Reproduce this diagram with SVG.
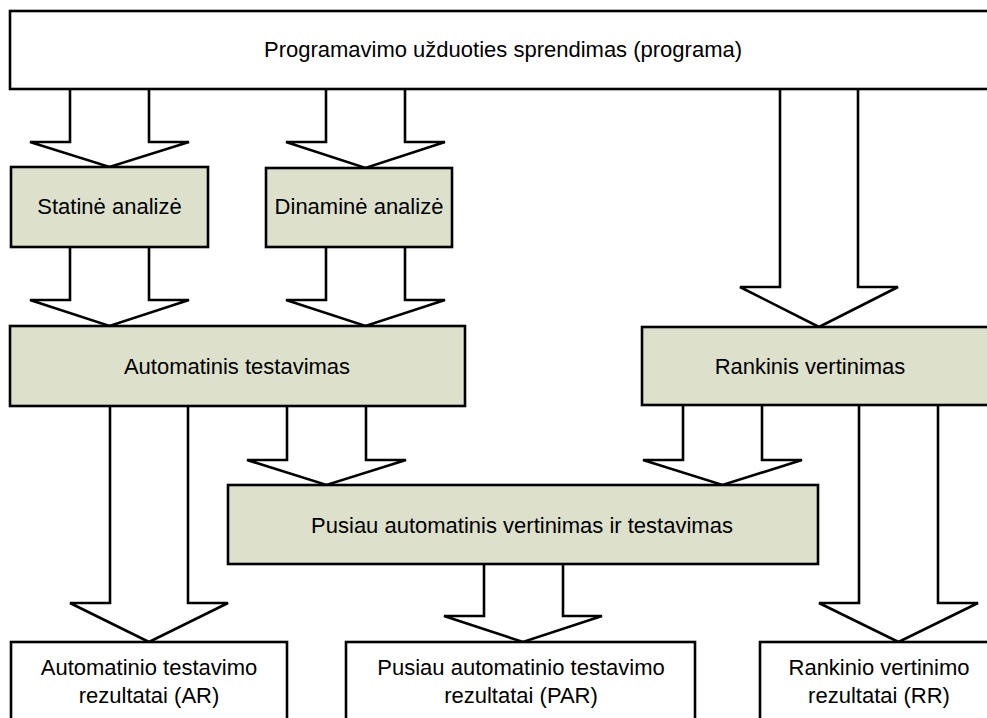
<svg xmlns="http://www.w3.org/2000/svg" width="987" height="718" viewBox="0 0 987 718">
  <style>
    .box { stroke: #000; stroke-width: 2.6; }
    .plain { fill: #fff; }
    .step { fill: #dde0cb; }
    .arrow { fill: #fff; stroke: #000; stroke-width: 2.6; stroke-linejoin: miter; }
    text { font-family: "Liberation Sans", Arial, sans-serif; font-size: 22px; fill: #000; text-anchor: middle; }
  </style>
  <rect width="987" height="718" fill="#fff"/>

  <!-- block arrows (drawn before boxes so boxes sit on top of the shafts) -->
  <g id="connectors">
    <!-- program -> static analysis -->
    <path class="arrow" d="M70,89 V142 H30 L109.5,167 L189,142 H149 V89"/>
    <!-- program -> dynamic analysis -->
    <path class="arrow" d="M326,89 V142 H286 L365.5,168 L445,142 H405 V89"/>
    <!-- program -> manual evaluation -->
    <path class="arrow" d="M780,89 V287 H740 L819,327 L898,287 H858 V89"/>
    <!-- static analysis -> automatic testing -->
    <path class="arrow" d="M70,247 V300 H30 L109.5,326 L189,300 H149 V247"/>
    <!-- dynamic analysis -> automatic testing -->
    <path class="arrow" d="M326,247 V300 H286 L365.5,326 L445,300 H405 V247"/>
    <!-- automatic testing -> semi-automatic -->
    <path class="arrow" d="M287,406 V460 H247 L326.5,485 L406,460 H366 V406"/>
    <!-- manual evaluation -> semi-automatic -->
    <path class="arrow" d="M683,406 V460 H643 L722.5,485 L802,460 H762 V406"/>
    <!-- automatic testing -> AR -->
    <path class="arrow" d="M110,406 V603 H70 L149,642 L228,603 H188 V406"/>
    <!-- semi-automatic -> PAR -->
    <path class="arrow" d="M484,564 V616 H444 L523,642 L602,616 H563 V564"/>
    <!-- manual evaluation -> RR -->
    <path class="arrow" d="M859,406 V603 H819 L898.5,642 L978,603 H938 V406"/>
  </g>

  <g id="program">
    <rect class="box plain" x="10" y="11" width="1000" height="78"/>
    <text x="503" y="57">Programavimo užduoties sprendimas (programa)</text>
  </g>

  <g id="static-analysis">
    <rect class="box step" x="11" y="167" width="197" height="80"/>
    <text x="109.5" y="214">Statinė analizė</text>
  </g>

  <g id="dynamic-analysis">
    <rect class="box step" x="266" y="168" width="186" height="79"/>
    <text x="359" y="214">Dinaminė analizė</text>
  </g>

  <g id="automatic-testing">
    <rect class="box step" x="10" y="326" width="455" height="80"/>
    <text x="237" y="374">Automatinis testavimas</text>
  </g>

  <g id="manual-evaluation">
    <rect class="box step" x="642" y="327" width="360" height="78"/>
    <text x="810" y="374">Rankinis vertinimas</text>
  </g>

  <g id="semi-automatic">
    <rect class="box step" x="228" y="485" width="590" height="79"/>
    <text x="522" y="533">Pusiau automatinis vertinimas ir testavimas</text>
  </g>

  <g id="result-ar">
    <rect class="box plain" x="11" y="642" width="276" height="100"/>
    <text x="149" y="675">Automatinio testavimo</text>
    <text x="149" y="703">rezultatai (AR)</text>
  </g>

  <g id="result-par">
    <rect class="box plain" x="346" y="642" width="349" height="100"/>
    <text x="521" y="675">Pusiau automatinio testavimo</text>
    <text x="521" y="703">rezultatai (PAR)</text>
  </g>

  <g id="result-rr">
    <rect class="box plain" x="760" y="642" width="250" height="100"/>
    <text x="879" y="675">Rankinio vertinimo</text>
    <text x="879" y="703">rezultatai (RR)</text>
  </g>
</svg>
